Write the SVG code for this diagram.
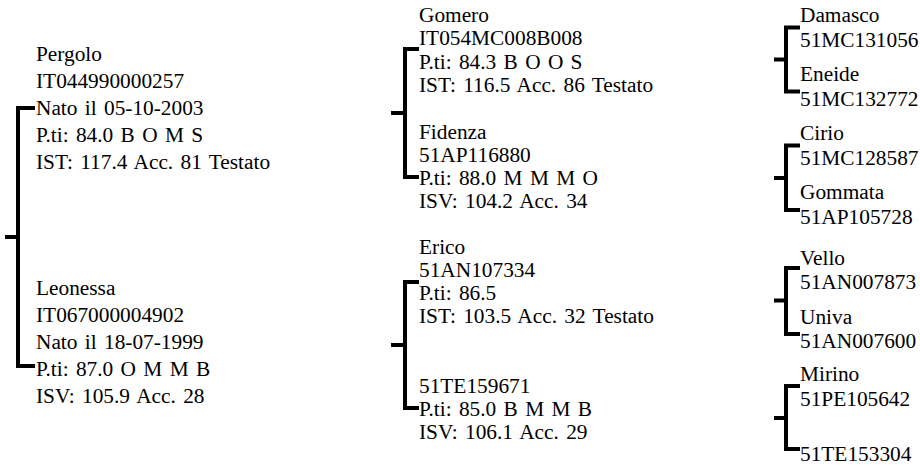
<svg xmlns="http://www.w3.org/2000/svg" width="920" height="466" viewBox="0 0 920 466">
<style>
text{font-family:"Liberation Serif","Times New Roman",serif;font-size:21.33px;fill:#000;word-spacing:2px}
.br{fill:none;stroke:#000;stroke-width:4;stroke-linejoin:miter;stroke-linecap:butt}
</style>
<rect width="920" height="466" fill="#fff"/>
<g id="connectors">
<path class="br" d="M35,108 H18 V366 H35 M5,237 H18"/>
<path class="br" d="M419,49 H405 V177 H419 M391,113 H405"/>
<path class="br" d="M419,282 H405 V408 H419 M391,345 H405"/>
<path class="br" d="M800,27.5 H786 V91.5 H800 M774,59.5 H786"/>
<path class="br" d="M800,145.5 H786 V210 H800 M774,178 H786"/>
<path class="br" d="M800,268 H786 V334 H800 M774,300.5 H786"/>
<path class="br" d="M800,386 H786 V449 H800 M774,418 H786"/>
</g>
<g id="pergolo"><text x="36" y="61">Pergolo</text><text x="36" y="88">IT044990000257</text><text x="36" y="115">Nato il 05-10-2003</text><text x="36" y="142">P.ti: 84.0 B O M S</text><text x="36" y="169">IST: 117.4 Acc. 81 Testato</text></g>
<g id="leonessa"><text x="36" y="295">Leonessa</text><text x="36" y="322">IT067000004902</text><text x="36" y="349">Nato il 18-07-1999</text><text x="36" y="376">P.ti: 87.0 O M M B</text><text x="36" y="403">ISV: 105.9 Acc. 28</text></g>
<g id="gomero"><text x="419" y="22">Gomero</text><text x="419" y="45.3">IT054MC008B008</text><text x="419" y="68.6">P.ti: 84.3 B O O S</text><text x="419" y="91.9">IST: 116.5 Acc. 86 Testato</text></g>
<g id="fidenza"><text x="419" y="138.5">Fidenza</text><text x="419" y="161.8">51AP116880</text><text x="419" y="185.1">P.ti: 88.0 M M M O</text><text x="419" y="208.4">ISV: 104.2 Acc. 34</text></g>
<g id="erico"><text x="419" y="253.5">Erico</text><text x="419" y="276.7">51AN107334</text><text x="419" y="299.9">P.ti: 86.5</text><text x="419" y="323.1">IST: 103.5 Acc. 32 Testato</text></g>
<g id="51TE159671"><text x="419" y="392.5">51TE159671</text><text x="419" y="415.7">P.ti: 85.0 B M M B</text><text x="419" y="438.9">ISV: 106.1 Acc. 29</text></g>
<g id="damasco"><text x="800" y="22">Damasco</text><text x="800" y="46.5">51MC131056</text></g>
<g id="eneide"><text x="800" y="81">Eneide</text><text x="800" y="105.5">51MC132772</text></g>
<g id="cirio"><text x="800" y="140">Cirio</text><text x="800" y="164.5">51MC128587</text></g>
<g id="gommata"><text x="800" y="199">Gommata</text><text x="800" y="223.5">51AP105728</text></g>
<g id="vello"><text x="800" y="264.5">Vello</text><text x="800" y="289">51AN007873</text></g>
<g id="univa"><text x="800" y="323.5">Univa</text><text x="800" y="348">51AN007600</text></g>
<g id="mirino"><text x="800" y="381">Mirino</text><text x="800" y="405.5">51PE105642</text></g>
<g id="51TE153304"><text x="800" y="461">51TE153304</text></g>
</svg>
